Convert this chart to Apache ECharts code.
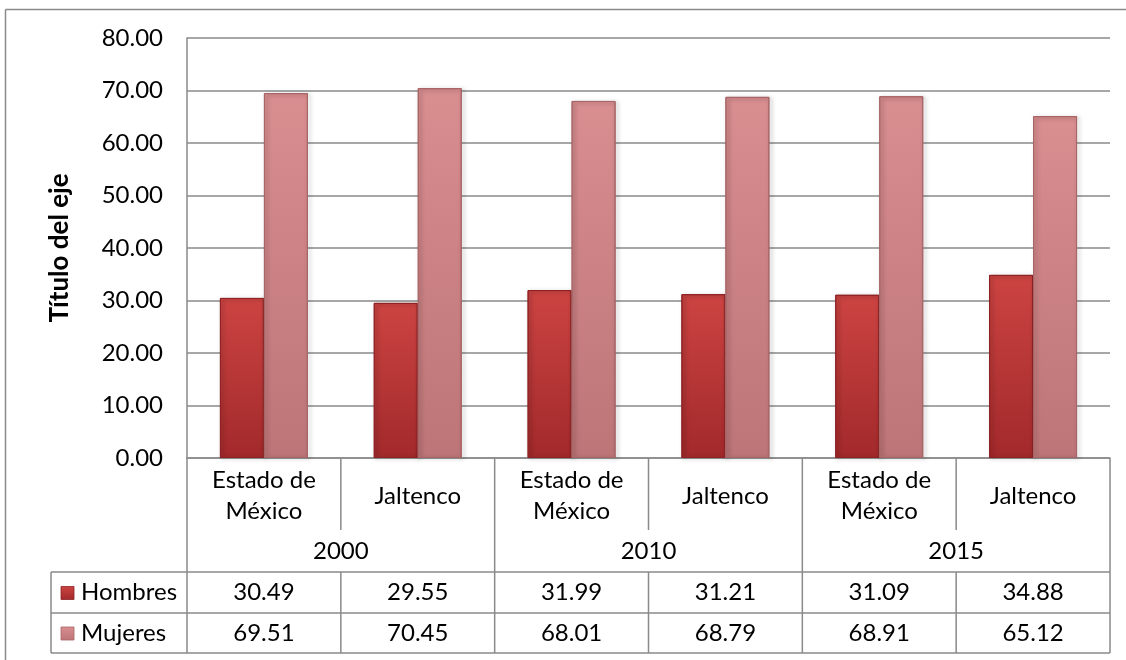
<!DOCTYPE html>
<html>
<head>
<meta charset="utf-8">
<script src="https://cdn.jsdelivr.net/npm/echarts@6/dist/echarts.min.js"></script>
<style>
html,body{margin:0;padding:0;background:#fff;}
#c{width:1126px;height:660px;}
</style>
</head>
<body>
<div id="c"></div>
<script>
const years = ['2000', '2010', '2015'];
const places = ['Estado de\nMéxico', 'Jaltenco'];
const categories = ['Estado de\nMéxico', 'Jaltenco', 'Estado de\nMéxico', 'Jaltenco', 'Estado de\nMéxico', 'Jaltenco'];
const seriesNames = ['Hombres', 'Mujeres'];
const hombres = [30.49, 29.55, 31.99, 31.21, 31.09, 34.88];
const mujeres = [69.51, 70.45, 68.01, 68.79, 68.91, 65.12];
const yMin = 0, yMax = 80, yStep = 10;

const FONT = 'Lato, "Open Sans", sans-serif';
const LINE = '#8a8a8a';
const hGrad = new echarts.graphic.LinearGradient(0, 0, 0, 1, [
  {offset: 0, color: '#cc4442'}, {offset: 1, color: '#a2292b'}]);
const mGrad = new echarts.graphic.LinearGradient(0, 0, 0, 1, [
  {offset: 0, color: '#d98e90'}, {offset: 1, color: '#bd7578'}]);

const chart = echarts.init(document.getElementById('c'), null, {renderer: 'canvas'});
const option = {
  animation: false,
  backgroundColor: '#fff',
  grid: {left: 187, right: 16, top: 38, bottom: 202, containLabel: false},
  xAxis: {
    type: 'category', data: categories,
    axisLabel: {show: false}, axisTick: {show: false},
    axisLine: {show: true, lineStyle: {color: LINE, width: 1.5}}
  },
  yAxis: {
    type: 'value', min: yMin, max: yMax, interval: yStep,
    name: 'Título del eje', nameLocation: 'middle', nameGap: 114,
    nameTextStyle: {fontFamily: FONT, fontWeight: 'bold', fontSize: 26, color: '#000'},
    axisLine: {show: true, lineStyle: {color: LINE, width: 1.5}},
    axisTick: {show: false},
    axisLabel: {fontFamily: FONT, fontSize: 24, color: '#000', margin: 24,
      formatter: v => v.toFixed(2)},
    splitLine: {lineStyle: {color: LINE, width: 1.5}}
  },
  series: [
    {name: seriesNames[0], type: 'bar', data: hombres, barWidth: 44, barGap: '0%',
     itemStyle: {color: hGrad, borderColor: '#8e2224', borderWidth: 1,
       shadowColor: 'rgba(0,0,0,0.35)', shadowBlur: 4, shadowOffsetX: 2, shadowOffsetY: 1}},
    {name: seriesNames[1], type: 'bar', data: mujeres, barWidth: 44,
     itemStyle: {color: mGrad, borderColor: '#a86466', borderWidth: 1,
       shadowColor: 'rgba(0,0,0,0.35)', shadowBlur: 4, shadowOffsetX: 2, shadowOffsetY: 1}}
  ]
};
chart.setOption(option);

// build data table below the axis from the same arrays
const c0 = chart.convertToPixel({xAxisIndex: 0}, 0);
const c1 = chart.convertToPixel({xAxisIndex: 0}, 1);
const cw = c1 - c0;
const left = c0 - cw / 2;
const right = left + cw * categories.length;
const yAxisPx = chart.convertToPixel({yAxisIndex: 0}, 0);
const rowYear = yAxisPx + 72;
const rowH = rowYear + 42;
const rowM = rowH + 41;
const rowEnd = rowM + 40;
const keyLeft = 51;
const els = [];
const ln = (x1, y1, x2, y2) => els.push({type: 'line', silent: true,
  shape: {x1, y1, x2, y2}, style: {stroke: LINE, lineWidth: 1.5}});
const tx = (text, x, y, align) => els.push({type: 'text', silent: true, x, y,
  style: {text, fill: '#000', font: '24px ' + FONT, fontSize: 24, fontFamily: 'Lato',
    textAlign: align || 'center', textVerticalAlign: 'middle', lineHeight: 31}});

// outer chart border
ln(5.5, 9.5, 1126, 9.5);
ln(5.5, 9.5, 5.5, 660);
// left border of category area down to table bottom
ln(left, yAxisPx, left, rowEnd);
// data row horizontals
[rowH, rowM, rowEnd].forEach(y => ln(keyLeft, y, right, y));
ln(keyLeft, rowH, keyLeft, rowEnd);
// verticals
for (let i = 1; i <= categories.length; i++) {
  const x = left + i * cw;
  if (i % places.length === 0) ln(x, yAxisPx, x, rowEnd);
  else { ln(x, yAxisPx, x, rowYear); ln(x, rowH, x, rowEnd); }
}
// category labels
categories.forEach((c, i) => tx(c, left + (i + 0.5) * cw, (yAxisPx + rowYear) / 2 + 2));
years.forEach((y, j) => tx(y, left + (j + 0.5) * cw * places.length, (rowYear + rowH) / 2));
const valRows = [hombres, mujeres];
const grads = [hGrad, mGrad];
const rowTops = [rowH, rowM];
const rowBots = [rowM, rowEnd];
valRows.forEach((vals, r) => {
  const cy = (rowTops[r] + rowBots[r]) / 2;
  vals.forEach((v, i) => tx(v.toFixed(2), left + (i + 0.5) * cw, cy));
  els.push({type: 'rect', silent: true, shape: {x: 61, y: cy - 6, width: 13, height: 13},
    style: {fill: grads[r], stroke: r === 0 ? '#8e2224' : '#a86466', lineWidth: 0.8}});
  tx(seriesNames[r], 81, cy, 'left');
});
chart.setOption({graphic: {elements: els}});
</script>
</body>
</html>
